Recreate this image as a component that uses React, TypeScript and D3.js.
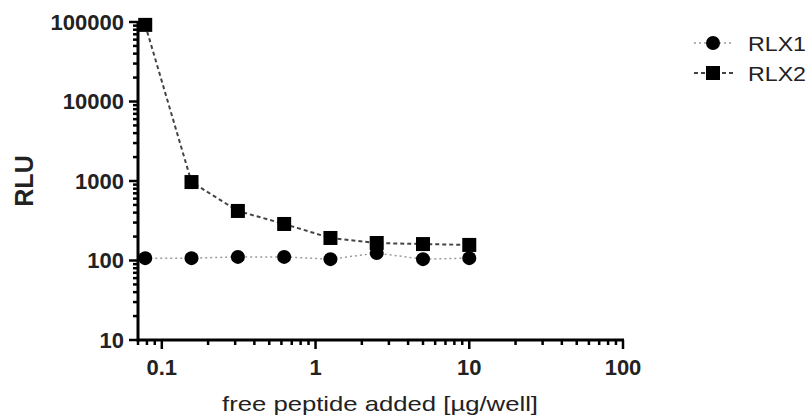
import React, { useRef, useEffect } from "react";
import * as d3 from "d3";

// free peptide added [µg/well]
const doses = [0.078, 0.156, 0.3125, 0.625, 1.25, 2.5, 5, 10];
const rlx1 = [107, 107, 111, 111, 104, 124, 104, 107];
const rlx2 = [92000, 970, 420, 288, 192, 166, 161, 157];
const yTicks = [10, 100, 1000, 10000, 100000];
const xTicks = [0.1, 1, 10, 100];

const series = [
  { name: "RLX1", values: rlx1, marker: "circle", stroke: "#9a9a9a", dash: "2,3", width: 1.5 },
  { name: "RLX2", values: rlx2, marker: "square", stroke: "#444", dash: "4,3", width: 2 }
];

const W = 812;
const H = 418;

export default function App() {
  const ref = useRef<SVGSVGElement>(null);

  useEffect(() => {
    const svg = d3.select(ref.current);
    svg.selectAll("*").remove();

    const x = d3.scaleLog().domain([0.07, 100]).range([138, 623]);
    const y = d3.scaleLog().domain([10, 100000]).range([340, 22]);

    const font = "Arial, 'Liberation Sans', sans-serif";

    // 1..9 per decade
    const minors = (lo: number, hi: number) => {
      const out: number[] = [];
      for (let d = lo; d < hi; d *= 10) {
        for (let k = 1; k < 10; k++) out.push(d * k);
      }
      return out;
    };

    const g = svg.append("g");

    // y axis
    g.append("line")
      .attr("x1", 138).attr("x2", 138)
      .attr("y1", y(10) + 1.5).attr("y2", y(100000) - 1)
      .attr("stroke", "#000").attr("stroke-width", 3);
    minors(10, 100000).concat([100000]).forEach(v => {
      const major = yTicks.includes(v);
      g.append("line")
        .attr("x1", major ? 129 : 133).attr("x2", 138)
        .attr("y1", y(v)).attr("y2", y(v))
        .attr("stroke", "#000").attr("stroke-width", 2.5);
    });
    yTicks.forEach(v => {
      g.append("text")
        .attr("x", 124).attr("y", y(v))
        .attr("dy", "0.36em")
        .attr("text-anchor", "end")
        .attr("font-family", font)
        .attr("font-weight", "bold")
        .attr("font-size", 22)
        .attr("fill", "#222")
        .text(d3.format("d")(v));
    });

    // x axis
    g.append("line")
      .attr("x1", 137).attr("x2", 624)
      .attr("y1", 340).attr("y2", 340)
      .attr("stroke", "#000").attr("stroke-width", 3);
    minors(0.01, 100).concat([100]).filter(v => v >= 0.07).forEach(v => {
      const major = xTicks.some(t => Math.abs(t - v) < 1e-9);
      g.append("line")
        .attr("x1", x(v)).attr("x2", x(v))
        .attr("y1", 340).attr("y2", major ? 349 : 345)
        .attr("stroke", "#000").attr("stroke-width", 2.5);
    });
    xTicks.forEach(v => {
      g.append("text")
        .attr("x", x(v)).attr("y", 375)
        .attr("text-anchor", "middle")
        .attr("font-family", font)
        .attr("font-weight", "bold")
        .attr("font-size", 22)
        .attr("fill", "#222")
        .text(String(v));
    });

    // axis titles
    g.append("text")
      .attr("x", 222).attr("y", 411)
      .attr("font-family", font)
      .attr("font-size", 21)
      .attr("fill", "#222")
      .attr("textLength", 316)
      .attr("lengthAdjust", "spacingAndGlyphs")
      .text("free peptide added [µg/well]");
    g.append("text")
      .attr("transform", `translate(33, ${y(1000)}) rotate(-90)`)
      .attr("text-anchor", "middle")
      .attr("font-family", font)
      .attr("font-weight", "bold")
      .attr("font-size", 25)
      .attr("fill", "#222")
      .text("RLU");

    const line = d3.line<number>()
      .x((_, i) => x(doses[i]))
      .y(d => y(d));

    const drawMarker = (sel: any, kind: string, cx: number, cy: number) => {
      if (kind === "circle") {
        sel.append("circle").attr("cx", cx).attr("cy", cy).attr("r", 7).attr("fill", "#000");
      } else {
        sel.append("rect").attr("x", cx - 7).attr("y", cy - 7).attr("width", 14).attr("height", 14).attr("fill", "#000");
      }
    };

    series.forEach(s => {
      g.append("path")
        .attr("d", line(s.values))
        .attr("fill", "none")
        .attr("stroke", s.stroke)
        .attr("stroke-width", s.width)
        .attr("stroke-dasharray", s.dash);
    });
    series.forEach(s => {
      s.values.forEach((v, i) => drawMarker(g, s.marker, x(doses[i]), y(v)));
    });

    // legend
    series.forEach((s, i) => {
      const ly = 43 + i * 30;
      g.append("line")
        .attr("x1", 694).attr("x2", 733)
        .attr("y1", ly).attr("y2", ly)
        .attr("stroke", s.stroke)
        .attr("stroke-width", s.width)
        .attr("stroke-dasharray", s.dash);
      drawMarker(g, s.marker, 713, ly);
      g.append("text")
        .attr("x", 748).attr("y", ly)
        .attr("dy", "0.36em")
        .attr("font-family", font)
        .attr("font-size", 21)
        .attr("fill", "#222")
        .attr("textLength", 58)
        .attr("lengthAdjust", "spacingAndGlyphs")
        .text(s.name);
    });
  }, []);

  return (
    <svg
      ref={ref}
      width={W}
      height={H}
      style={{ position: "absolute", left: 0, top: 0, background: "#fff" }}
    />
  );
}
